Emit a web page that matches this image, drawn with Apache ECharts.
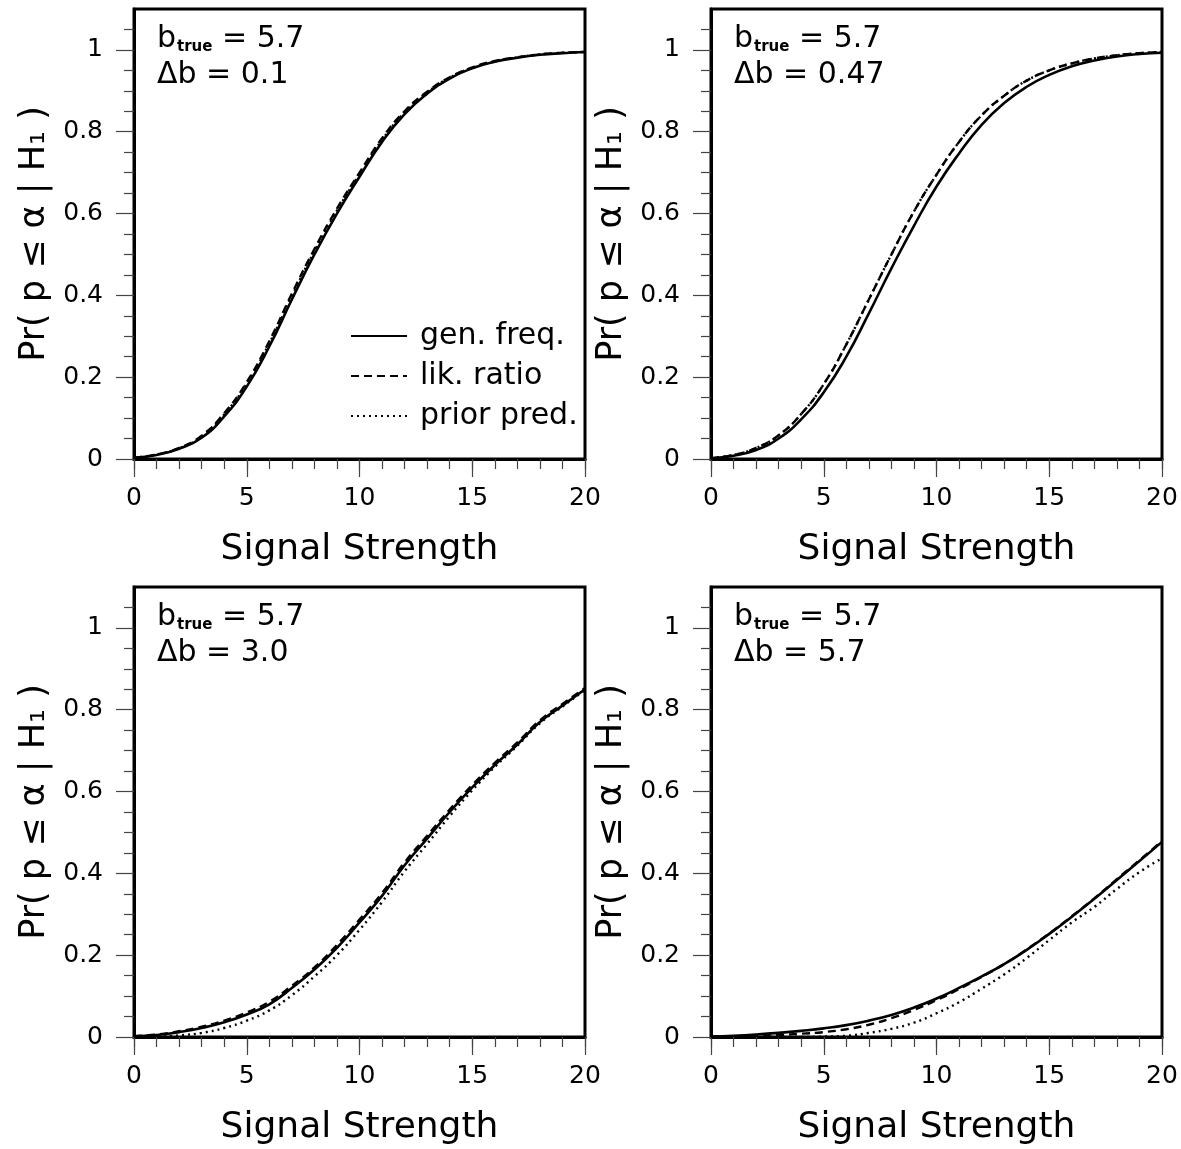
<!DOCTYPE html>
<html>
<head>
<meta charset="utf-8">
<script src="https://cdn.jsdelivr.net/npm/echarts@6/dist/echarts.min.js"></script>
<style>
html,body{margin:0;padding:0;background:#fff;}
#chart{width:1181px;height:1149px;}
</style>
</head>
<body>
<div id="chart"></div>
<script>
// ---- data ----
var signal = [0,1,2,3,4,5,6,7,8,9,10,11,12,13,14,15,16,17,18,19,20];
var seriesNames = ['gen. freq.', 'lik. ratio', 'prior pred.'];
var panelB = ['5.7', '5.7', '5.7', '5.7'];
var panelDb = ['0.1', '0.47', '3.0', '5.7'];

// panel 1 : Δb = 0.1
var genFreq1   = [0.003,0.010,0.025,0.052,0.104,0.177,0.275,0.390,0.500,0.600,0.690,0.775,0.843,0.893,0.930,0.955,0.971,0.981,0.988,0.992,0.995];
var likRatio1  = [0.003,0.011,0.027,0.057,0.112,0.188,0.288,0.404,0.513,0.612,0.700,0.784,0.850,0.898,0.933,0.957,0.973,0.982,0.989,0.993,0.995];
var priorPred1 = [0.003,0.011,0.026,0.055,0.109,0.184,0.283,0.398,0.508,0.607,0.696,0.780,0.847,0.896,0.932,0.956,0.972,0.982,0.989,0.993,0.995];
// panel 2 : Δb = 0.47
var genFreq2   = [0.002,0.008,0.022,0.050,0.097,0.163,0.250,0.356,0.466,0.570,0.666,0.747,0.817,0.870,0.910,0.939,0.960,0.974,0.984,0.990,0.993];
var likRatio2  = [0.002,0.010,0.027,0.058,0.110,0.183,0.280,0.390,0.500,0.605,0.695,0.775,0.840,0.888,0.925,0.950,0.967,0.979,0.987,0.992,0.995];
var priorPred2 = [0.002,0.010,0.027,0.058,0.110,0.183,0.280,0.390,0.500,0.605,0.695,0.775,0.840,0.888,0.925,0.950,0.967,0.979,0.987,0.992,0.995];
// panel 3 : Δb = 3.0
var genFreq3   = [0.002,0.005,0.012,0.022,0.036,0.055,0.080,0.120,0.165,0.218,0.280,0.345,0.420,0.485,0.550,0.610,0.665,0.715,0.770,0.810,0.850];
var likRatio3  = [0.002,0.006,0.014,0.025,0.040,0.060,0.086,0.125,0.170,0.225,0.287,0.352,0.427,0.492,0.556,0.616,0.670,0.720,0.774,0.814,0.853];
var priorPred3 = [0.000,0.001,0.004,0.010,0.022,0.040,0.065,0.102,0.148,0.200,0.262,0.330,0.405,0.472,0.540,0.603,0.660,0.712,0.767,0.808,0.848];
// panel 4 : Δb = 5.7
var genFreq4   = [0.001,0.003,0.006,0.010,0.015,0.021,0.029,0.040,0.054,0.072,0.094,0.120,0.148,0.178,0.213,0.252,0.294,0.338,0.384,0.430,0.477];
var likRatio4  = [0.001,0.002,0.003,0.005,0.008,0.012,0.019,0.030,0.046,0.066,0.090,0.117,0.147,0.178,0.214,0.253,0.295,0.339,0.386,0.432,0.479];
var priorPred4 = [0.000,0.000,0.000,0.000,0.000,0.001,0.003,0.010,0.020,0.035,0.058,0.085,0.118,0.153,0.193,0.237,0.280,0.318,0.362,0.403,0.437];

// ticks
var xMajorTicks = [0,5,10,15,20];
var xMinorTicks = [0,1,2,3,4,5,6,7,8,9,10,11,12,13,14,15,16,17,18,19,20];
var yMajorTicks = [0,0.2,0.4,0.6,0.8,1];
var yMinorTicks = [0.05,0.1,0.15,0.25,0.3,0.35,0.45,0.5,0.55,0.65,0.7,0.75,0.85,0.9,0.95,1.05];

var panels = [
  [genFreq1, likRatio1, priorPred1],
  [genFreq2, likRatio2, priorPred2],
  [genFreq3, likRatio3, priorPred3],
  [genFreq4, likRatio4, priorPred4]
];

// ---- layout ----
var FONT = 'DejaVu Sans';
var gridPos = [
  {left:134, top:9},
  {left:711, top:9},
  {left:134, top:587},
  {left:711, top:587}
];
var GW = 451, GH = 450;

var grids = [], xAxes = [], yAxes = [], series = [], titles = [];
var lineStyles = [
  {color:'#000', width:2.6, type:'solid'},
  {color:'#000', width:2.4, type:[8,5]},
  {color:'#000', width:2.4, type:[2,4]}
];

function pairs(vals){
  return signal.map(function(x,i){ return [x, vals[i]]; });
}

gridPos.forEach(function(g, i){
  grids.push({left:g.left, top:g.top, width:GW, height:GH, show:true,
    borderColor:'#000', borderWidth:3, backgroundColor:'transparent'});
  xAxes.push({type:'value', gridIndex:i, min:0, max:20, interval:5, position:'bottom',
    name:'Signal Strength', nameLocation:'middle', nameGap:73,
    nameTextStyle:{fontFamily:FONT, fontSize:36, color:'#000'},
    axisLine:{show:true, onZero:false, lineStyle:{color:'#000', width:3}},
    axisTick:{show:true, inside:false, length:18, customValues:xMajorTicks, lineStyle:{color:'#444', width:1.2}},
    axisLabel:{show:true, customValues:xMajorTicks, margin:27, fontFamily:FONT, fontSize:25, color:'#000'},
    splitLine:{show:false}});
  xAxes.push({type:'value', gridIndex:i, min:0, max:20, interval:1, position:'bottom',
    axisLine:{show:false, onZero:false},
    axisTick:{show:true, inside:false, length:10, customValues:xMinorTicks, lineStyle:{color:'#444', width:1.2}},
    axisLabel:{show:false}, splitLine:{show:false}});
  yAxes.push({type:'value', gridIndex:i, min:0, max:1.1, position:'left',
    name:'Pr( p \u2264 \u03b1 | H\u2081 )', nameLocation:'middle', nameGap:82, nameRotate:90,
    nameTextStyle:{fontFamily:FONT, fontSize:35, color:'#000'},
    axisLine:{show:true, onZero:false, lineStyle:{color:'#000', width:3}},
    axisTick:{show:true, inside:false, length:18, customValues:yMajorTicks, lineStyle:{color:'#444', width:1.2}},
    axisLabel:{show:true, customValues:yMajorTicks, margin:31, fontFamily:FONT, fontSize:25, color:'#000'},
    splitLine:{show:false}});
  yAxes.push({type:'value', gridIndex:i, min:0, max:1.1, position:'left',
    axisLine:{show:false, onZero:false},
    axisTick:{show:true, inside:false, length:10, customValues:yMinorTicks, lineStyle:{color:'#444', width:1.2}},
    axisLabel:{show:false}, splitLine:{show:false}});

  panels[i].forEach(function(vals, k){
    series.push({type:'line', name:seriesNames[k], xAxisIndex:2*i, yAxisIndex:2*i,
      data:pairs(vals), symbol:'none', showSymbol:false, smooth:0.5,
      lineStyle:lineStyles[k], itemStyle:{color:'#000'}, z:3+k, silent:true});
  });

  titles.push({left:g.left+18, top:g.top+10,
    text:'{b|b}{s|true}{n| = ' + panelB[i] + '}\n{m|\u0394b = ' + panelDb[i] + '}',
    textStyle:{fontWeight:'normal', rich:{
      b:{fontFamily:FONT, fontSize:30, fontWeight:'normal', color:'#000', lineHeight:31, verticalAlign:'top', padding:[0,0,10,0]},
      n:{fontFamily:FONT, fontSize:30, fontWeight:'normal', color:'#000', lineHeight:31, verticalAlign:'top', padding:[0,0,10,0]},
      s:{fontFamily:FONT, fontSize:15, fontWeight:'bold', color:'#000', lineHeight:16, verticalAlign:'bottom', padding:[0,0,0,1]},
      m:{fontFamily:FONT, fontSize:30, fontWeight:'normal', color:'#000', lineHeight:31, padding:[9,0,0,0]}
    }}});
});

var chart = echarts.init(document.getElementById('chart'), null, {renderer:'canvas'});
chart.setOption({
  animation:false,
  backgroundColor:'#fff',
  title:titles,
  legend:{show:true, data:seriesNames, orient:'vertical', left:345, top:316,
    itemWidth:56, itemHeight:14, itemGap:10,
    itemStyle:{opacity:0},
    textStyle:{fontFamily:FONT, fontSize:30, color:'#000', padding:[0,0,0,8]},
    selectedMode:false},
  grid:grids,
  xAxis:xAxes,
  yAxis:yAxes,
  series:series
});
</script>
</body>
</html>
